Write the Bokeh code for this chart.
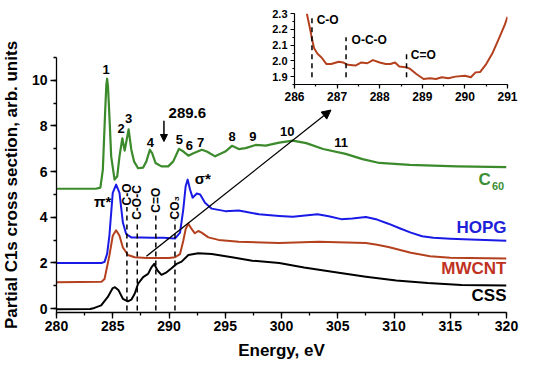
from bokeh.plotting import figure
from bokeh.models import (Column, SingleIntervalTicker, Arrow, NormalHead,
                          PrintfTickFormatter)
from bokeh.core.properties import value
from bokeh.embed import file_html
from bokeh.resources import INLINE
import math

FONT = "Liberation Sans"

# ---------------- data ----------------
c60_x = [280, 283.5, 283.9, 284.12, 284.33, 284.43, 284.5, 284.58, 284.72, 284.86, 285.16, 285.4,
         285.6, 285.85, 286.06, 286.41, 286.65, 286.89, 287.25, 287.7, 287.99, 288.3, 288.5,
         288.8, 289.33, 289.93, 290.38, 290.89, 291.28, 291.72, 292.17, 292.92, 293.36, 294.1,
         295.0, 295.6, 296.2, 296.8, 297.7, 298.6, 299.8, 301.0, 302.2, 303.7, 305.7, 307.2,
         308.7, 311.4, 315.6, 320]
c60_y = [5.25, 5.25, 5.3, 6.09, 8.7, 9.8, 10.07, 9.7, 8.26, 6.67, 5.65, 5.8,
         6.67, 7.46, 6.92, 7.85, 6.96, 6.45, 6.15, 6.18, 6.45, 6.96, 6.81,
         6.38, 6.23, 6.23, 6.45, 7.0, 6.88, 6.7, 6.81, 6.96, 6.88, 6.67,
         6.88, 7.13, 6.99, 7.03, 7.17, 7.14, 7.27, 7.36, 7.25, 6.99, 6.78, 6.55,
         6.38, 6.30, 6.23, 6.2]

hopg_x = [280, 284.0, 284.27, 284.5, 284.7, 285.0, 285.3, 285.6, 285.9, 286.2, 286.65, 287.5,
          288.5, 289.5, 290.53, 290.98, 291.27, 291.48, 291.66, 291.87, 292.1, 292.47, 292.77,
          293.2, 293.8, 295.0, 296.2, 298.0, 299.8, 301.0, 303.2, 304.2, 305.3, 306.3, 307.5,
          308.5, 309.5, 310.5, 311.5, 312.5, 313.5, 315.0, 316.8, 320]
hopg_y = [2.0, 2.0, 2.05, 2.4, 3.19, 5.07, 5.43, 5.07, 3.77, 3.26, 3.12, 3.12,
          3.1, 3.1, 3.07, 3.33, 4.35, 5.36, 5.65, 5.22, 4.86, 5.04, 5.0,
          4.64, 4.38, 4.27, 4.3, 4.13, 4.06, 4.02, 4.13, 4.05, 3.92, 3.95, 4.01,
          3.9, 3.72, 3.52, 3.33, 3.17, 3.1, 3.06, 3.03, 2.97]

mw_x = [280, 284.0, 284.27, 284.7, 285.0, 285.3, 285.6, 285.9, 286.35, 286.95, 288.0, 289.0,
        290.0, 290.53, 290.98, 291.27, 291.48, 291.72, 292.02, 292.3, 292.6, 292.9, 293.5,
        294.4, 296.2, 299.8, 303.3, 307.5, 308.5, 309.5, 310.2, 311.5, 313.2, 315.0, 320]
mw_y = [1.16, 1.18, 1.3, 2.32, 3.19, 3.43, 3.19, 2.68, 2.35, 2.25, 2.22, 2.22,
        2.22, 2.25, 2.39, 2.97, 3.48, 3.72, 3.48, 3.3, 3.4, 3.33, 3.12,
        3.01, 2.93, 2.87, 2.93, 2.87, 2.8, 2.7, 2.61, 2.45, 2.29, 2.23, 2.2]

css_x = [280, 283.0, 283.37, 283.97, 284.56, 285.0, 285.2, 285.52, 285.9, 286.35, 286.65,
         286.95, 287.25, 287.7, 288.14, 288.44, 288.68, 288.98, 289.33, 289.78, 290.23, 290.68,
         291.12, 291.72, 292.6, 293.8, 295.6, 297.4, 299.8, 302.0, 304.8, 307.5, 310.2, 313.0,
         316.0, 320]
css_y = [-0.03, -0.02, 0.03, 0.14, 0.51, 0.9, 0.94, 0.8, 0.43, 0.32, 0.39,
         0.65, 1.09, 1.38, 1.52, 1.81, 1.96, 1.67, 1.48, 1.59, 1.77, 1.96,
         2.06, 2.35, 2.43, 2.39, 2.25, 2.1, 2.0, 1.8, 1.59, 1.4, 1.23, 1.12,
         1.04, 1.01]

inset_x = [286.29, 286.36, 286.41, 286.46, 286.54, 286.64, 286.75, 286.86, 287.04, 287.14,
           287.25, 287.43, 287.57, 287.71, 287.84, 288.0, 288.14, 288.25, 288.36, 288.46,
           288.61, 288.71, 288.86, 289.03, 289.18, 289.32, 289.46, 289.61, 289.78, 290.0,
           290.14, 290.25, 290.36, 290.5, 290.64, 290.78, 290.93, 291.0]
inset_y = [2.30, 2.21, 2.14, 2.08, 2.045, 2.02, 1.98, 1.98, 1.995, 1.99,
           1.975, 1.97, 1.99, 1.985, 2.005, 1.99, 1.98, 1.98, 1.99, 1.965,
           1.96, 1.95, 1.917, 1.885, 1.89, 1.885, 1.896, 1.89, 1.90, 1.906,
           1.896, 1.927, 1.93, 1.98, 2.045, 2.13, 2.225, 2.28]

# bond-energy markers (main)
bond_x = [286.26, 287.18, 288.83, 290.53]
bond_top = [4.45, 3.85, 4.2, 3.9]
bond_bottom = [-0.08, -0.08, -0.08, -0.08]
bond_labels = ["C-O", "C-O-C", "C=O", "CO\u2083"]
bond_label_y = [5.0, 4.65, 4.75, 4.42]

# bond-energy markers (inset)
ib_x = [286.41, 287.21, 288.63]
ib_top = [2.29, 2.15, 2.065]
ib_bottom = [1.896, 1.896, 1.896]
ib_labels = ["C-O", "O-C-O", "C=O"]
ib_label_x = [286.52, 287.34, 288.73]
ib_label_y = [2.26, 2.13, 2.04]

# C60 peak numbers
peak_labels = ["1", "2", "3", "4", "5", "6", "7", "8", "9", "10", "11"]
peak_x = [284.41, 285.75, 286.41, 288.35, 290.92, 291.81, 292.82, 295.6, 297.45, 300.52, 305.3]
peak_y = [10.48, 7.9, 8.33, 7.27, 7.39, 7.14, 7.27, 7.54, 7.54, 7.78, 7.27]

GREEN = "#3b8a2b"
BLUE = "#1a1ae6"
BROWN = "#b4401e"

# ---------------- main figure ----------------
p = figure(width=548, height=362, x_range=(280, 320), y_range=(-0.17, 11.0),
           output_backend="svg", toolbar_location=None,
           min_border_left=59, min_border_right=39, min_border_top=57, min_border_bottom=48)
p.outline_line_color = None
p.grid.visible = False

p.xaxis.ticker = SingleIntervalTicker(interval=5, num_minor_ticks=2)
p.yaxis.ticker = SingleIntervalTicker(interval=2, num_minor_ticks=2)
for ax in (p.xaxis, p.yaxis):
    ax.major_tick_in = 0
    ax.major_tick_out = 6
    ax.minor_tick_in = 0
    ax.minor_tick_out = 3
    ax.axis_line_width = 1.3
    ax.major_tick_line_width = 1.3
    ax.minor_tick_line_width = 1.3
    ax.major_label_text_font = FONT
    ax.major_label_text_font_style = "bold"
    ax.major_label_text_font_size = "14px"
    ax.major_label_text_color = "black"
    ax.axis_label_text_font = FONT
    ax.axis_label_text_font_style = "bold"
    ax.axis_label_text_font_size = "17px"
    ax.axis_label_text_color = "black"
p.xaxis.axis_label = "Energy, eV"
p.yaxis.axis_label = "Partial C1s cross section, arb. units"
p.xaxis.major_label_standoff = 2
p.yaxis.major_label_standoff = 3
p.xaxis.axis_label_standoff = 7
p.yaxis.axis_label_standoff = 8

p.line(css_x, css_y, color="black", line_width=2, line_join="round")
p.line(mw_x, mw_y, color=BROWN, line_width=2, line_join="round")
p.line(hopg_x, hopg_y, color=BLUE, line_width=2, line_join="round")
p.line(c60_x, c60_y, color=GREEN, line_width=2.2, line_join="round")

p.segment(x0=bond_x, y0=bond_bottom, x1=bond_x, y1=bond_top,
          color="black", line_width=1.5, line_dash="5 4")
p.text(x=bond_x, y=bond_label_y, text=bond_labels, angle=math.pi / 2,
       text_align="center", text_baseline="middle", text_font=value(FONT),
       text_font_style="bold", text_font_size="12px", text_color="black")

p.text(x=peak_x, y=peak_y, text=peak_labels, text_align="center", text_baseline="middle",
       text_font=value(FONT), text_font_style="bold", text_font_size="13px",
       text_color="black")

def label(x, y, t, color="black", size="15px", align="center"):
    p.text(x=[x], y=[y], text=[t], text_align=align, text_baseline="middle",
           text_font=value(FONT), text_font_style="bold", text_font_size=size,
           text_color=color)

label(291.63, 8.59, "289.6", size="15px")
label(284.1, 4.7, "\u03c0*", size="15px")
label(293.0, 5.72, "\u03c3*", size="15px")
label(318.6, 5.65, "C", color="#3d8f35", size="17px", align="right")
label(318.7, 5.36, "60", color="#3d8f35", size="11px", align="left")
label(320, 3.55, "HOPG", color="#2020d8", size="17px", align="right")
label(320, 1.74, "MWCNT", color="#c0321e", size="17px", align="right")
label(320, 0.58, "CSS", color="black", size="17px", align="right")

p.add_layout(Arrow(end=NormalHead(size=7, fill_color="black", line_color="black"),
                   x_start=289.55, y_start=8.23, x_end=289.55, y_end=7.32,
                   line_color="black", line_width=1.5))
p.add_layout(Arrow(end=NormalHead(size=9, fill_color="black", line_color="black"),
                   x_start=287.99, y_start=2.29, x_end=304.4, y_end=8.7,
                   line_color="black", line_width=1.3))
p.styles = {"position": "relative", "left": "-3px"}

# ---------------- inset figure ----------------
ins = figure(width=311, height=103, x_range=(286, 291), y_range=(1.85, 2.301),
             output_backend="svg", toolbar_location=None,
             min_border_left=35, min_border_right=10, min_border_top=8, min_border_bottom=24)
ins.outline_line_color = None
ins.grid.visible = False
ins.xaxis.ticker = SingleIntervalTicker(interval=1, num_minor_ticks=2)
ins.yaxis.ticker = SingleIntervalTicker(interval=0.1, num_minor_ticks=2)
ins.yaxis.formatter = PrintfTickFormatter(format="%.1f")
for ax in (ins.xaxis, ins.yaxis):
    ax.major_tick_in = 0
    ax.major_tick_out = 4
    ax.minor_tick_in = 0
    ax.minor_tick_out = 2
    ax.axis_line_width = 1.2
    ax.major_tick_line_width = 1.2
    ax.minor_tick_line_width = 1.2
    ax.major_label_text_font = FONT
    ax.major_label_text_font_style = "bold"
    ax.major_label_text_color = "black"
ins.xaxis.major_label_text_font_size = "12px"
ins.yaxis.major_label_text_font_size = "11px"
ins.xaxis.major_label_standoff = 3
ins.yaxis.major_label_standoff = 3

ins.line(inset_x, inset_y, color=BROWN, line_width=2, line_join="round")
ins.segment(x0=ib_x, y0=ib_bottom, x1=ib_x, y1=ib_top, color="black",
            line_width=1.5, line_dash="5 4")
ins.text(x=ib_label_x, y=ib_label_y, text=ib_labels, text_align="left",
         text_baseline="middle", text_font=value(FONT), text_font_style="bold",
         text_font_size="12px", text_color="black")

ins.styles = {"position": "absolute", "left": "235px", "top": "5px", "z-index": "10"}

layout = Column(children=[p, ins], styles={"position": "relative"})

open("out.html", "w").write(file_html(layout, INLINE))
